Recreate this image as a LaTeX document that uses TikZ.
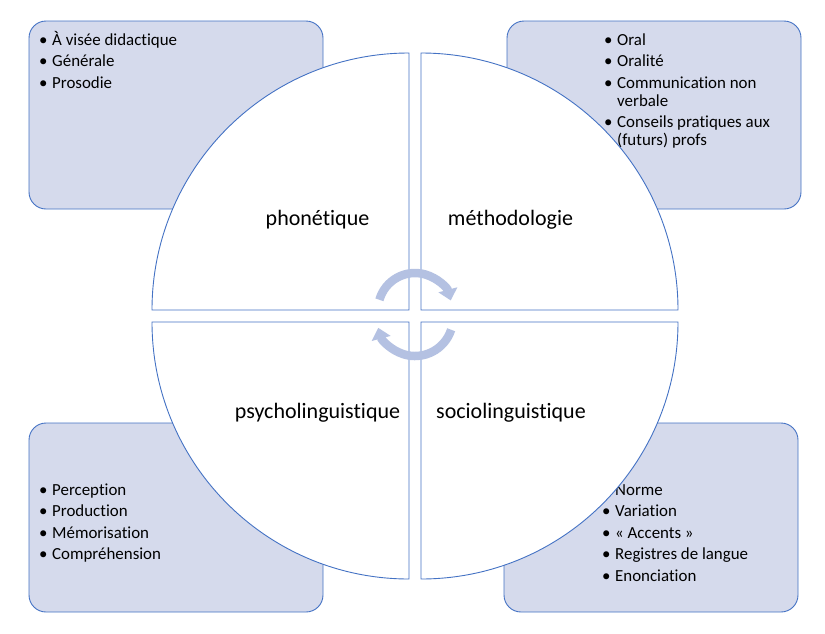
\documentclass[tikz,border=0pt]{standalone}
\usepackage{fontspec}
\setmainfont{Carlito}[RawFeature={-liga}]
\usetikzlibrary{arrows.meta}
\definecolor{boxfill}{RGB}{213,218,236}
\definecolor{edgeblue}{RGB}{68,114,196}
\definecolor{arrowfill}{RGB}{180,193,226}
\newcommand\bitem[1]{\makebox[13pt][l]{\textbullet}#1}
\newcommand\bcont[1]{\hspace*{13pt}#1}
\begin{document}
\begin{tikzpicture}[x=1pt,y=-1pt,
  infobox/.style={draw=edgeblue, line width=0.9pt, fill=boxfill, rounded corners=17pt},
  quad/.style={draw=edgeblue, line width=0.9pt, fill=white},
  listline/.style={anchor=base west, inner sep=0pt, font=\fontsize{16.9}{18.3}\selectfont},
  qlabel/.style={anchor=base, inner sep=0pt, font=\fontsize{22}{26}\selectfont},
  cyc/.style={draw=arrowfill, line width=8.5pt, -{Triangle[width=19pt,length=11pt]}}]
\useasboundingbox (0,0) rectangle (825,633);
% corner boxes
\draw[infobox] (29,21) rectangle (323,209);
\draw[infobox] (507,21) rectangle (801,209);
\draw[infobox] (29,423) rectangle (323,612);
\draw[infobox] (504,423) rectangle (798,612);
% texts of the boxes
\node[listline] (tl1) at (39,45) {\bitem{À visée didactique}};
\node[listline] (tl2) at (39,66.5) {\bitem{Générale}};
\node[listline] (tl3) at (39,88) {\bitem{Prosodie}};
\node[listline] (tr1) at (604,45) {\bitem{Oral}};
\node[listline] (tr2) at (604,66.5) {\bitem{Oralité}};
\node[listline] (tr3) at (604,88) {\bitem{Communication non}};
\node[listline] (tr4) at (604,106.3) {\bcont{verbale}};
\node[listline] (tr5) at (604,127.6) {\bitem{Conseils pratiques aux}};
\node[listline] (tr6) at (604,145.9) {\bcont{(futurs) profs}};
\node[listline] (bl1) at (39,495) {\bitem{Perception}};
\node[listline] (bl2) at (39,516.5) {\bitem{Production}};
\node[listline] (bl3) at (39,538) {\bitem{Mémorisation}};
\node[listline] (bl4) at (39,559.5) {\bitem{Compréhension}};
\node[listline] (br1) at (602,495) {\bitem{Norme}};
\node[listline] (br2) at (602,516.5) {\bitem{Variation}};
\node[listline] (br3) at (602,538) {\bitem{« Accents »}};
\node[listline] (br4) at (602,559.5) {\bitem{Registres de langue}};
\node[listline] (br5) at (602,581) {\bitem{Enonciation}};
% quadrants
\draw[quad] (409,310) -- (152,310) arc[start angle=180, end angle=270, radius=257] -- cycle;
\draw[quad] (421,310) -- (421,53) arc[start angle=270, end angle=360, radius=257] -- cycle;
\draw[quad] (409,322) -- (152,322) arc[start angle=180, end angle=90, radius=257] -- cycle;
\draw[quad] (421,322) -- (678,322) arc[start angle=0, end angle=90, radius=257] -- cycle;
% labels
\node[qlabel] (pho) at (317.5,225.5) {phonétique};
\node[qlabel] (met) at (510.5,225.5) {méthodologie};
\node[qlabel] (psy) at (317.5,418.7) {psycholinguistique};
\node[qlabel] (soc) at (511,418.7) {sociolinguistique};
% cycle arrows
\draw[cyc] (415,310) ++(196:37) arc[start angle=196, end angle=345, radius=37];
\draw[cyc] (415,318) ++(18:38) arc[start angle=18, end angle=165, radius=38];
\end{tikzpicture}
\end{document}
